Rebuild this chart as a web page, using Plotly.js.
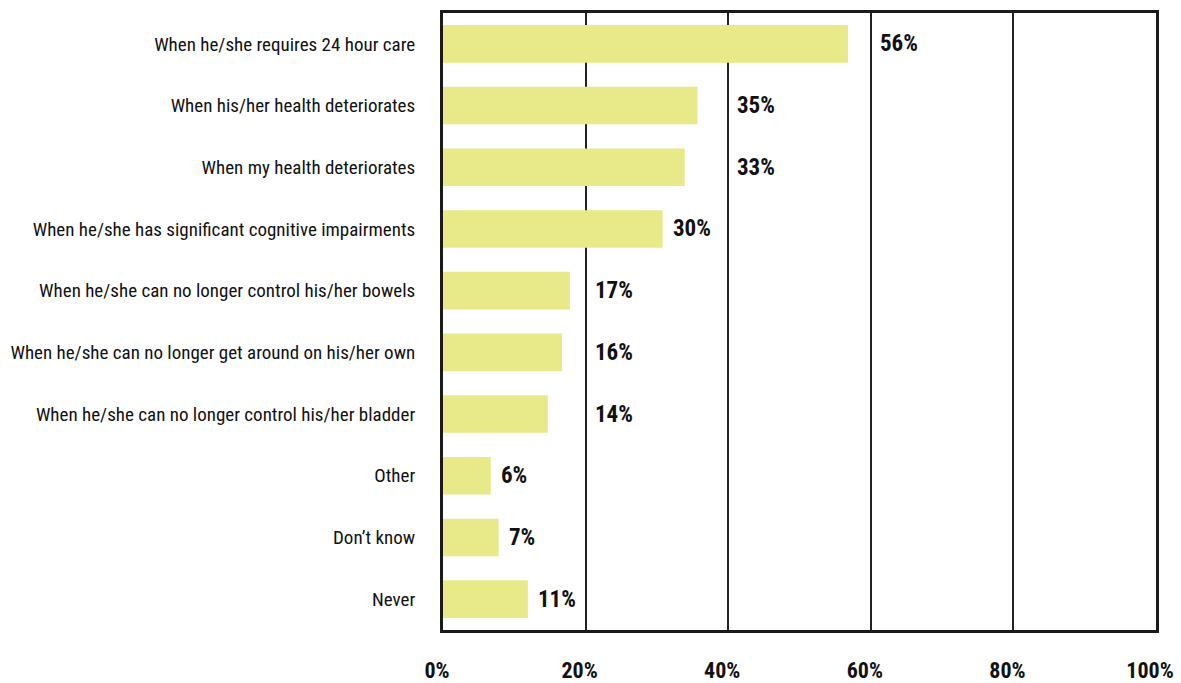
<!DOCTYPE html>
<html><head><meta charset="utf-8">
<script src="https://cdn.plot.ly/plotly-3.0.1.min.js"></script>
<style>html,body{margin:0;padding:0;background:#fff;}</style>
</head><body>
<div id="chart" style="width:1181px;height:683px;"></div>
<script>
const categories = [
  "When he/she requires 24 hour care",
  "When his/her health deteriorates",
  "When my health deteriorates",
  "When he/she has significant cognitive impairments",
  "When he/she can no longer control his/her bowels",
  "When he/she can no longer get around on his/her own",
  "When he/she can no longer control his/her bladder",
  "Other",
  "Don’t know",
  "Never"
];
const barValues = [56.8, 35.7, 33.9, 30.8, 17.8, 16.7, 14.7, 6.7, 7.8, 11.9];
const valueLabels = ["56%", "35%", "33%", "30%", "17%", "16%", "14%", "6%", "7%", "11%"];
const tickValues = [0, 20, 40, 60, 80, 100];
const tickLabels = ["0%", "20%", "40%", "60%", "80%", "100%"];

const FONT = "'Roboto Condensed', 'DejaVu Sans Condensed', sans-serif";
const gap = 1.2, labelW = 5;
const annotations = categories.map((c, i) => {
  let x = barValues[i] + gap;
  tickValues.forEach(g => { if (g > 0 && g < 100 && g > x - 0.3 && g < x + labelW) x = g + 1; });
  return {x: x, y: c, text: "<b>" + valueLabels[i] + "</b>", showarrow: false,
    xanchor: "left", yanchor: "middle", font: {family: FONT, size: 23, color: "#111"}};
});

const trace = {
  type: "bar", orientation: "h", x: barValues, y: categories,
  marker: {color: "#E8EA89"}, width: 0.61, hoverinfo: "none"
};
const layout = {
  width: 1181, height: 683,
  margin: {l: 443, r: 25, t: 13, b: 53},
  paper_bgcolor: "#fff", plot_bgcolor: "#fff",
  showlegend: false,
  font: {family: FONT, color: "#111"},
  xaxis: {range: [0, 100], tickvals: tickValues, ticktext: tickLabels.map(t => "<b>" + t + "</b>"),
    showgrid: true, gridcolor: "#222", gridwidth: 2, zeroline: false,
    showline: true, linecolor: "#1a1a1a", linewidth: 3, mirror: true,
    ticks: "", ticklabelstandoff: 19, ticklabelshift: -6, ticklabeloverflow: "allow",
    tickfont: {family: FONT, size: 22, color: "#111"}, fixedrange: true},
  yaxis: {autorange: "reversed", type: "category", showgrid: false, zeroline: false,
    showline: true, linecolor: "#1a1a1a", linewidth: 3, mirror: true,
    ticks: "", ticklabelstandoff: 21,
    tickfont: {family: FONT, size: 19, color: "#111"}, fixedrange: true},
  annotations: annotations
};
Plotly.newPlot("chart", [trace], layout, {displayModeBar: false, staticPlot: true});
</script>
</body></html>
